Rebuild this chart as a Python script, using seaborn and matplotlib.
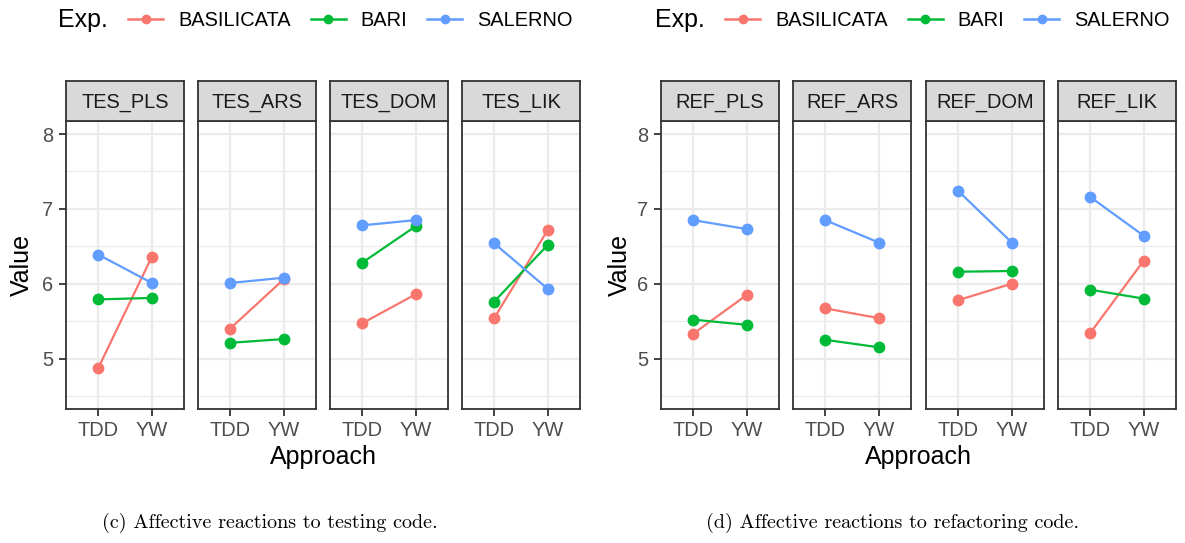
import numpy as np
import pandas as pd
import matplotlib
matplotlib.use("Agg")
import matplotlib.pyplot as plt
import seaborn as sns
from matplotlib.lines import Line2D

# ---------------- data ----------------
approaches = ["TDD", "YW"]
experiments = ["BASILICATA", "BARI", "SALERNO"]
metrics_tes = ["TES_PLS", "TES_ARS", "TES_DOM", "TES_LIK"]
metrics_ref = ["REF_PLS", "REF_ARS", "REF_DOM", "REF_LIK"]

# values per metric: [TDD, YW]
basilicata_tes = [[4.87, 6.36], [5.40, 6.06], [5.47, 5.86], [5.54, 6.72]]
bari_tes = [[5.79, 5.81], [5.21, 5.26], [6.28, 6.77], [5.76, 6.52]]
salerno_tes = [[6.39, 6.01], [6.01, 6.08], [6.78, 6.85], [6.54, 5.93]]

basilicata_ref = [[5.33, 5.85], [5.67, 5.54], [5.78, 6.00], [5.34, 6.31]]
bari_ref = [[5.52, 5.45], [5.25, 5.15], [6.16, 6.17], [5.92, 5.80]]
salerno_ref = [[6.85, 6.73], [6.85, 6.55], [7.24, 6.55], [7.16, 6.64]]

y_ticks = [5, 6, 7, 8]
captions = ["(c) Affective reactions to testing code.",
            "(d) Affective reactions to refactoring code."]

palette = ["#F8766D", "#00BA38", "#619CFF"]


def build(metrics, series):
    rows = []
    for exp, vals in zip(experiments, series):
        for m, pair in zip(metrics, vals):
            for a, v in zip(approaches, pair):
                rows.append({"Metric": m, "Approach": a, "Exp.": exp, "Value": v})
    return pd.DataFrame(rows)


df_tes = build(metrics_tes, [basilicata_tes, bari_tes, salerno_tes])
df_ref = build(metrics_ref, [basilicata_ref, bari_ref, salerno_ref])

# ---------------- figure ----------------
W, H = 1185, 543
fig = plt.figure(figsize=(W / 100, H / 100), dpi=100)
plt.rcParams["font.family"] = ["Liberation Sans", "DejaVu Sans"]

BASE = 18
SMALL = 14.4
DARK = "#333333"
GRID = "#EBEBEB"

panel_top, panel_bot = 121, 409
strip_top = 81

groups = [
    (df_tes, metrics_tes, [66, 198, 330, 462], 118, 270, 323, 22),
    (df_ref, metrics_ref, [661, 793, 926, 1058], 118, 892, 918, 620),
]


def rect(x0, y0, x1, y1):
    return [x0 / W, 1 - y1 / H, (x1 - x0) / W, (y1 - y0) / H]


for gi, (df, metrics, lefts, pw, cap_x, appr_x, val_x) in enumerate(groups):
    for i, (m, x0) in enumerate(zip(metrics, lefts)):
        ax = fig.add_axes(rect(x0, panel_top, x0 + pw, panel_bot))
        sub = df[df["Metric"] == m]
        sns.pointplot(data=sub, x="Approach", y="Value", hue="Exp.",
                      order=approaches, hue_order=experiments,
                      palette=palette, errorbar=None, markers="o",
                      markersize=7.3, linewidth=1.6, ax=ax, legend=False)
        ax.set_xlim(-0.6, 1.6)
        ax.set_ylim(4.325, 8.175)
        ax.set_yticks(y_ticks)
        ax.set_yticks([4.5, 5.5, 6.5, 7.5], minor=True)
        ax.set_axisbelow(True)
        ax.grid(True, which="major", axis="both", color=GRID, linewidth=1.6)
        ax.grid(True, which="minor", axis="y", color=GRID, linewidth=0.9)
        ax.tick_params(axis="both", which="major", length=5, width=1.3,
                       color=DARK, labelcolor="#4D4D4D", labelsize=SMALL, pad=4)
        ax.tick_params(axis="y", which="minor", length=0)
        if i > 0:
            ax.tick_params(axis="y", which="major", length=0, labelleft=False)
        ax.set_xlabel("")
        ax.set_ylabel("")
        for s in ax.spines.values():
            s.set_color(DARK)
            s.set_linewidth(1.3)
        ax.set_facecolor("white")

        # strip
        sax = fig.add_axes(rect(x0, strip_top, x0 + pw, panel_top))
        sax.set_facecolor("#D9D9D9")
        sax.set_xticks([])
        sax.set_yticks([])
        for s in sax.spines.values():
            s.set_color(DARK)
            s.set_linewidth(1.3)
        sax.text(0.5, 0.46, m, ha="center", va="center", fontsize=SMALL,
                 color="#1A1A1A", transform=sax.transAxes)

    # axis titles
    fig.text(appr_x / W, 1 - 457 / H, "Approach", ha="center", va="center",
             fontsize=BASE, color="black")
    fig.text(val_x / W, 1 - 265 / H, "Value", ha="center", va="center",
             rotation=90, fontsize=BASE, color="black")

    # legend
    hs = [Line2D([], [], color=c, marker="o", markersize=6, linewidth=1.8)
          for c in palette]
    lx = 58 if gi == 0 else 655
    fig.text(lx / W, 1 - 20 / H, "Exp.", ha="left", va="center",
             fontsize=BASE, color="black")
    fig.legend(hs, experiments, loc="center left",
               bbox_to_anchor=((lx + 70) / W, 1 - 20 / H), ncol=3,
               frameon=False, fontsize=SMALL, handlelength=1.75,
               handletextpad=0.75, columnspacing=1.0, borderpad=0,
               borderaxespad=0)

    # caption
    fig.text(cap_x / W, 1 - 523 / H, captions[gi], ha="center", va="center",
             fontsize=14.5, family="cmr10", color="black")

fig.savefig("out.png", dpi=100)
